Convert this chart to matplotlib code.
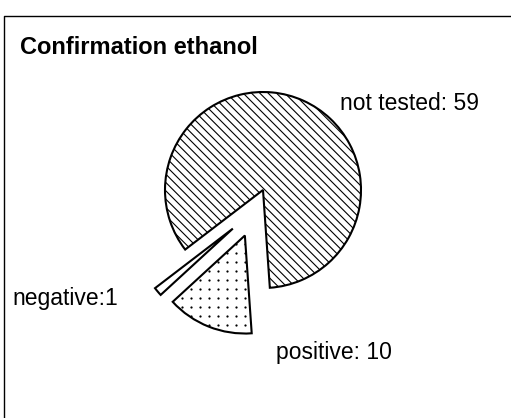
import numpy as np
import matplotlib.pyplot as plt

plt.rcParams['font.family'] = ['Liberation Sans', 'DejaVu Sans']
plt.rcParams['hatch.linewidth'] = 0.8

labels = ['not tested', 'negative', 'positive']
counts = [59, 1, 10]
label_text = ['not tested: 59', 'negative:1', 'positive: 10']
hatches = ['\\\\\\\\', '', '']
explode_frac = [0, 0.5, 0.5]

W, H = 511, 418
R = 98
cx, cy = 263, H - 190
fig = plt.figure(figsize=(W / 100, H / 100), dpi=100)
ax = fig.add_axes([0, 0, 1, 1])

# outer frame (only top/left visible in the reference)
ax.plot([4, 4, W + 5], [-5, H - 16, H - 16], color='black', lw=1)

wedges, _ = ax.pie(counts, startangle=-86, counterclock=True,
                   explode=[e * R for e in explode_frac],
                   center=(cx, cy), radius=R, frame=True,
                   wedgeprops=dict(facecolor='white', edgecolor='black', linewidth=1.5))
for w, h in zip(wedges, hatches):
    w.set_hatch(h)

# the small slice is pushed a bit further down in the original
neg = wedges[1]
mid = np.deg2rad((neg.theta1 + neg.theta2) / 2 + 12)
neg.set_center((cx + 0.5 * R * np.cos(mid), cy + 0.5 * R * np.sin(mid)))

# dotted fill of the positive slice
pos = wedges[2]
gx, gy = np.meshgrid(np.arange(0, W, 9), np.arange(0, H, 9))
dots = ax.scatter(gx.ravel() + 2, gy.ravel() + 3, s=2.6, color='black',
                  linewidths=0, zorder=pos.get_zorder() + 0.1)
dots.set_clip_path(pos)

ax.set_xlim(0, W)
ax.set_ylim(0, H)
ax.axis('off')

ax.text(20, H - 48, 'Confirmation ethanol', fontsize=17, fontweight='bold',
        ha='left', va='center')
ax.text(340, H - 103, label_text[0], fontsize=16.5, ha='left', va='center')
ax.text(12, H - 298, label_text[1], fontsize=16.5, ha='left', va='center')
ax.text(276, H - 352, label_text[2], fontsize=16.5, ha='left', va='center')

fig.savefig('out.png', dpi=100)
